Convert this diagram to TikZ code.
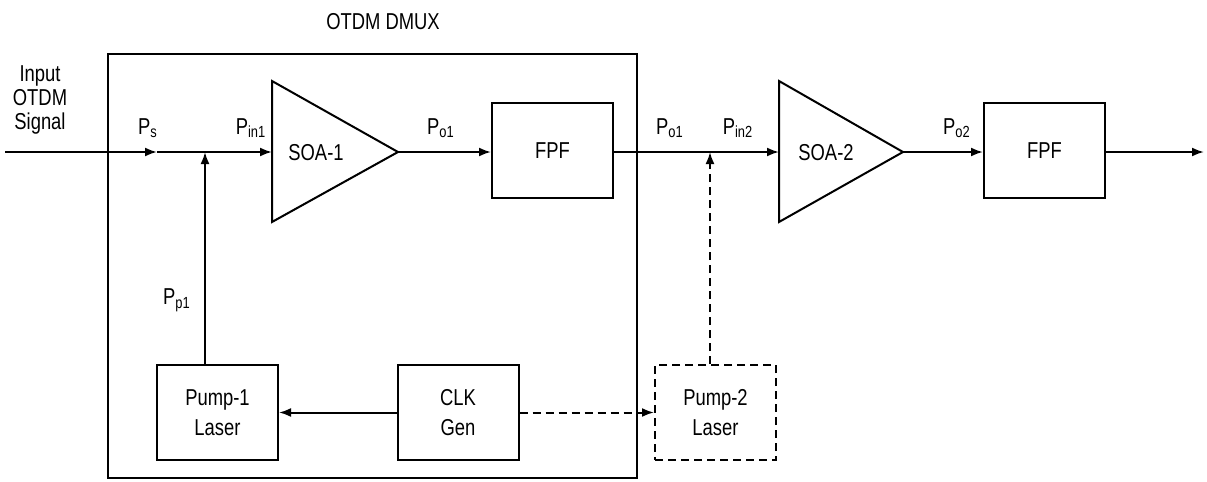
\documentclass[tikz,border=0pt]{standalone}
\usepackage{fontspec}
\setmainfont[FakeStretch=0.8]{Liberation Sans}
\usetikzlibrary{arrows.meta}
\begin{document}
\begin{tikzpicture}[x=0.5pt,y=-0.5pt,
  font=\fontsize{11.5}{15}\selectfont,
  line width=1pt,
  arr/.style={-{Latex[length=6pt,width=4.5pt]}},
  blk/.style={draw,rectangle,minimum width=60.5pt,minimum height=47.5pt,align=center,inner sep=0pt},
  dblk/.style={blk,dashed,dash pattern=on 4pt off 2.5pt},
  dsh/.style={dash pattern=on 4pt off 2.5pt},
  lbl/.style={inner sep=0pt}]
\useasboundingbox (0,0) rectangle (1207,482);
% big box
\node[draw,rectangle,minimum width=264.5pt,minimum height=212pt,inner sep=0pt] (dmux) at (372.5,266) {};
\node[lbl] (title) at (383,22) {OTDM DMUX};
% input
\node[lbl,align=center,font=\fontsize{11.5}{12}\selectfont] (inlbl) at (40,100) {Input\\OTDM\\Signal};
\coordinate (in) at (5,152);
\coordinate (ps) at (157,152);
\coordinate (j1) at (205,152);
% SOA-1
\coordinate (s1a) at (272,81);
\coordinate (s1b) at (272,222);
\coordinate (s1in) at (272,152);
\coordinate (s1out) at (398,152);
\draw[line join=miter] (s1a) -- (s1out) -- (s1b) -- cycle;
\node[lbl] (soa1) at (316,153) {SOA-1};
% FPF1
\node[blk] (fpf1) at (552.5,150.5) {FPF};
% SOA-2
\coordinate (s2a) at (779,81);
\coordinate (s2b) at (779,222);
\coordinate (s2in) at (779,152);
\coordinate (s2out) at (903,152);
\draw[line join=miter] (s2a) -- (s2out) -- (s2b) -- cycle;
\node[lbl] (soa2) at (826,153) {SOA-2};
% FPF2
\node[blk] (fpf2) at (1044.5,150.5) {FPF};
\coordinate (out) at (1204,152);
\coordinate (j2) at (710,152);
% bottom blocks
\node[blk] (pump1) at (217.5,412.5) {Pump-1\\Laser};
\node[blk] (clk) at (458,412.5) {CLK\\Gen};
\node[dblk] (pump2) at (715.5,412.5) {Pump-2\\Laser};
% connectors
\draw[arr] (in) -- (ps);
\draw[arr] (ps) -- (s1in);
\draw[arr] (s1out) -- (fpf1.west |- s1out);
\draw[arr] (fpf1.east |- s2in) -- (s2in);
\draw[arr] (s2out) -- (fpf2.west |- s2out);
\draw[arr] (fpf2.east |- out) -- (out);
\draw[arr] (pump1.north -| j1) -- (j1);
\draw[arr] (clk.west) -- (pump1.east);
\draw[arr,dsh] (clk.east) -- (pump2.west);
\draw[arr,dsh] (pump2.north -| j2) -- (j2);
% labels
\node[lbl] (lps) at (148,128) {P\textsubscript{s}};
\node[lbl] (lpin1) at (251,128) {P\textsubscript{in1}};
\node[lbl] (lpo1) at (441,128) {P\textsubscript{o1}};
\node[lbl] (lpo1b) at (670,128) {P\textsubscript{o1}};
\node[lbl] (lpin2) at (738,128) {P\textsubscript{in2}};
\node[lbl] (lpo2) at (957,128) {P\textsubscript{o2}};
\node[lbl] (lpp1) at (177,300) {P\textsubscript{p1}};
\end{tikzpicture}
\end{document}
